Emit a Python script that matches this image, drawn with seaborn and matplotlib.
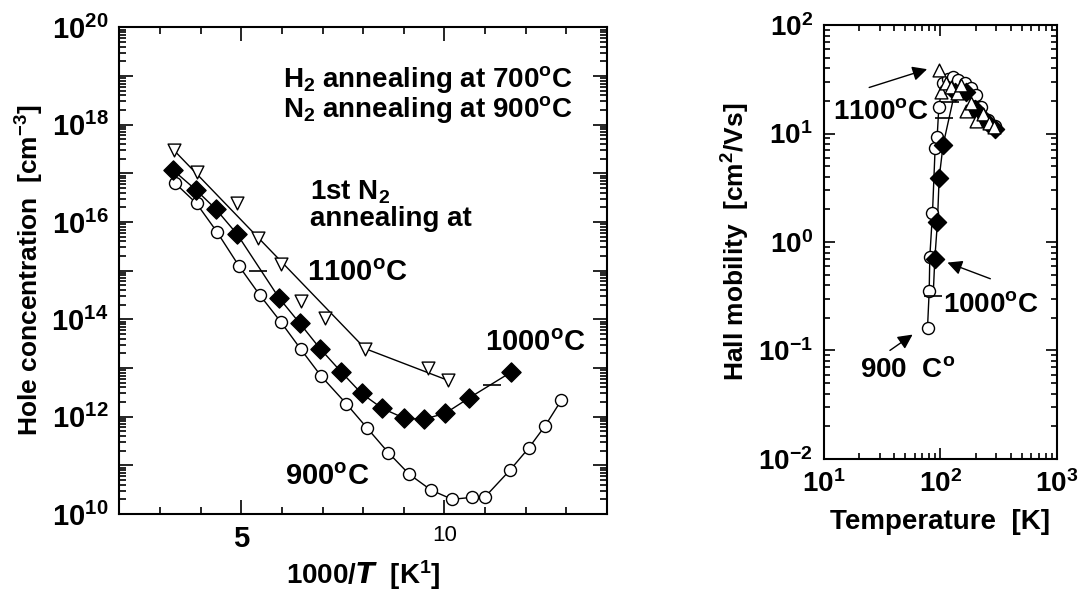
import numpy as np
import pandas as pd
import matplotlib
matplotlib.use('Agg')
import matplotlib.pyplot as plt
import matplotlib.ticker as mticker
import seaborn as sns

sns.set_style('ticks')
plt.rcParams['font.family'] = ['Liberation Sans', 'DejaVu Sans']
plt.rcParams['font.weight'] = 'bold'
plt.rcParams['mathtext.default'] = 'regular'
plt.rcParams['axes.unicode_minus'] = False
for key in ['text.color', 'axes.labelcolor', 'xtick.color', 'ytick.color', 'axes.edgecolor']:
    plt.rcParams[key] = 'black'

# ---- left panel: hole concentration vs 1000/T ----
x_900 = [3.38, 3.90, 4.40, 4.94, 5.45, 5.97, 6.47, 6.96, 7.58, 8.10, 8.62, 9.13,
         9.67, 10.19, 10.69, 10.99, 11.61, 12.07, 12.48, 12.88]
p_900 = [6.2e16, 2.4e16, 6.3e15, 1.26e15, 3.2e14, 8.9e13, 2.4e13, 6.9e12, 1.86e12,
         5.8e11, 1.82e11, 6.6e10, 3.1e10, 2.0e10, 2.2e10, 2.2e10, 7.9e10, 2.24e11,
         6.5e11, 2.2e12]
x_1000 = [3.32, 3.88, 4.37, 4.90, 5.93, 6.44, 6.94, 7.46, 7.96, 8.47, 9.01, 9.50,
          10.02, 10.60, 11.65]
p_1000 = [1.17e17, 4.6e16, 1.86e16, 5.6e15, 2.75e14, 8.3e13, 2.5e13, 8.3e12, 3.0e12,
          1.48e12, 9.3e11, 8.9e11, 1.17e12, 2.4e12, 8.3e12]
x_1100 = [3.34, 3.90, 4.90, 5.41, 5.97, 6.47, 7.05, 8.05, 9.59, 10.08]
p_1100 = [3.0e17, 1.07e17, 2.5e16, 4.6e15, 1.4e15, 2.4e14, 1.07e14, 2.5e13, 9.8e12, 5.6e12]
x_dash = [5.41, 11.16]
p_dash = [1.0e15, 4.4e12]

# ---- right panel: Hall mobility vs T ----
T_900 = [77.4, 80, 81, 85.4, 90, 93.6, 96.8, 105, 116, 128.5, 141.7, 161.7, 184.5,
         203.6, 224.5, 256, 292]
mu_900 = [0.162, 0.35, 0.73, 1.85, 7.4, 9.2, 17.5, 29, 32, 33.5, 31.2, 29, 26.1,
          22.7, 17.7, 13.4, 11.8]
T_1000 = [89.4, 94.2, 97.4, 105.4, 132.7, 167, 197, 224.5, 256, 292]
mu_1000 = [0.70, 1.53, 3.88, 7.87, 24, 24, 17, 14.5, 12.5, 11]
T_1100 = [97.5, 102, 112, 122, 139, 150, 167, 182, 201, 230, 262, 290]
mu_1100 = [38.5, 24.4, 29, 26.7, 23.8, 28, 16, 19.3, 13, 15, 12.5, 11.5]
T_dash = [86.5, 107.4, 121.8]
mu_dash = [0.316, 14.0, 19.7]

fig = plt.figure(figsize=(10.86, 5.92), dpi=100)
ax1 = fig.add_axes([0.1099, 0.1318, 0.449, 0.822])
ax2 = fig.add_axes([0.7587, 0.2247, 0.2146, 0.733])

mk = dict(edgecolor='black', linewidth=1, zorder=3, legend=False)

# left lines
for xs, ys in [(x_900, p_900), (x_1000, p_1000)]:
    ax1.plot(xs, ys, color='black', lw=1, zorder=2)
# 1100 series drawn as two straight segments
ax1.plot([x_1100[0], x_1100[7]], [p_1100[0], p_1100[7]], color='black', lw=1, zorder=2)
ax1.plot([x_1100[7], x_1100[9]], [p_1100[7], p_1100[9]], color='black', lw=1, zorder=2)

sns.scatterplot(x=x_900, y=p_900, ax=ax1, marker='o', s=75, color='white', **mk)
sns.scatterplot(x=x_1000, y=p_1000, ax=ax1, marker='D', s=95, color='black', **mk)
sns.scatterplot(x=x_1100, y=p_1100, ax=ax1, marker='v', s=85, color='white', **mk)
ax1.scatter(x_dash, p_dash, marker='_', s=180, color='black', linewidths=1.2, zorder=3)

ax1.set_yscale('log')
ax1.set_xlim(2, 14)
ax1.set_ylim(1e10, 1e20)
ax1.set_yticks([10.0**k for k in range(10, 21)])
ax1.yaxis.set_major_formatter(mticker.FuncFormatter(
    lambda v, p: r'$10^{%d}$' % round(np.log10(v)) if round(np.log10(v)) % 2 == 0 else ''))
ax1.yaxis.set_minor_locator(mticker.LogLocator(base=10, subs=np.arange(2, 10), numticks=100))
ax1.yaxis.set_minor_formatter(mticker.NullFormatter())
ax1.set_xticks([5, 10])
ax1.set_xticklabels(['5', '10'])
ax1.xaxis.set_minor_locator(mticker.MultipleLocator(1))
ax1.tick_params(which='both', direction='in', top=True, right=True, labelsize=21, pad=8)
ax1.tick_params(which='major', length=10, width=1.2)
ax1.tick_params(which='minor', length=5, width=1.2)
lab10 = ax1.get_xticklabels()[1]
lab10.set_fontsize(16)
lab10.set_fontweight('normal')
ax1.set_xlabel(r'1000/$\mathit{T}$  [K$^{1}$]', fontsize=20, fontweight='bold', labelpad=4)
ax1.set_ylabel(r'Hole concentration  [cm$^{-3}$]', fontsize=19, fontweight='bold', labelpad=4)

ax1.text(13.15, 10**18.92, r'H$_2$ annealing at 700$^{o}$C', fontsize=20, ha='right', va='center')
ax1.text(13.15, 10**18.32, r'N$_2$ annealing at 900$^{o}$C', fontsize=20, ha='right', va='center')
ax1.text(6.69, 10**16.62, r'1st N$_2$', fontsize=20, ha='left', va='center')
ax1.text(6.69, 10**16.07, 'annealing at', fontsize=20, ha='left', va='center')
ax1.text(6.61, 10**14.95, r'1100$^{o}$C', fontsize=21, ha='left', va='center')
ax1.text(10.99, 10**13.51, r'1000$^{o}$C', fontsize=21, ha='left', va='center')
ax1.text(6.07, 10**10.77, r'900$^{o}$C', fontsize=21, ha='left', va='center')

# right lines
ax2.plot(T_900, mu_900, color='black', lw=1, zorder=2)
ax2.plot([T_dash[0]] + T_1000, [mu_dash[0]] + mu_1000, color='black', lw=1, zorder=2)
sns.scatterplot(x=T_900, y=mu_900, ax=ax2, marker='o', s=75, color='white', **mk)
sns.scatterplot(x=T_1000, y=mu_1000, ax=ax2, marker='D', s=85, color='black', **mk)
sns.scatterplot(x=T_1100, y=mu_1100, ax=ax2, marker='^', s=85, color='white', **mk)
ax2.scatter(T_dash, mu_dash, marker='_', s=150, color='black', linewidths=1.2, zorder=3)

ax2.set_xscale('log')
ax2.set_yscale('log')
ax2.set_xlim(10, 1000)
ax2.set_ylim(1e-2, 1e2)
ax2.xaxis.set_major_locator(mticker.LogLocator(base=10, numticks=10))
ax2.yaxis.set_major_locator(mticker.LogLocator(base=10, numticks=10))
ax2.xaxis.set_minor_locator(mticker.LogLocator(base=10, subs=np.arange(2, 10), numticks=100))
ax2.yaxis.set_minor_locator(mticker.LogLocator(base=10, subs=np.arange(2, 10), numticks=100))
ax2.xaxis.set_minor_formatter(mticker.NullFormatter())
ax2.yaxis.set_minor_formatter(mticker.NullFormatter())
ax2.tick_params(which='both', direction='in', top=True, right=True, labelsize=20, pad=8)
ax2.tick_params(which='major', length=8, width=1.2)
ax2.tick_params(which='minor', length=4, width=1.2)
ax2.set_xlabel('Temperature  [K]', fontsize=20, fontweight='bold', labelpad=8)
ax2.set_ylabel(r'Hall mobility  [cm$^{2}$/Vs]', fontsize=19, fontweight='bold', labelpad=4)

arr = dict(arrowstyle='-|>', color='black', lw=1, mutation_scale=22)
ax2.text(11.9, 15.9, r'1100$^{o}$C', fontsize=20, ha='left', va='center')
ax2.annotate('', xy=(80.9, 39.9), xytext=(23.2, 26.1), arrowprops=arr)
ax2.text(104.8, 0.264, r'1000$^{o}$C', fontsize=20, ha='left', va='center')
ax2.annotate('', xy=(109, 0.66), xytext=(282, 0.449), arrowprops=arr)
ax2.text(20.3, 0.0665, r'900  C$^{o}$', fontsize=20, ha='left', va='center')
ax2.annotate('', xy=(60.3, 0.145), xytext=(35.2, 0.0968), arrowprops=arr)

for ax in (ax1, ax2):
    for sp in ax.spines.values():
        sp.set_linewidth(1.5)
        sp.set_color('black')
        sp.set_visible(True)

fig.savefig('out.png', dpi=100)
